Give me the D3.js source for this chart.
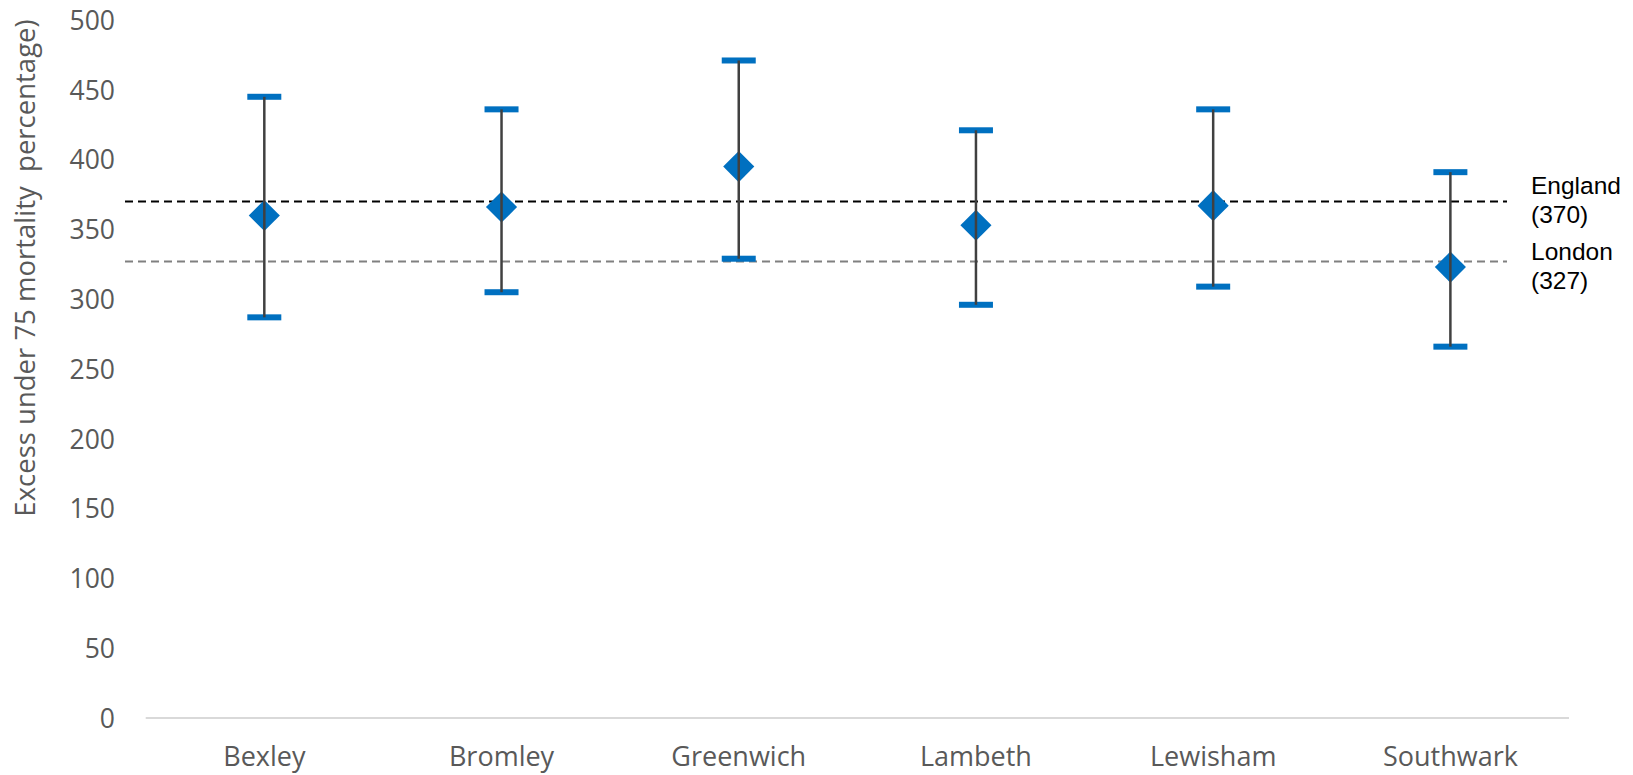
<!DOCTYPE html>
<html>
<head>
<meta charset="utf-8">
<script src="https://cdn.jsdelivr.net/npm/d3@7"></script>
<style>
  html, body { margin: 0; padding: 0; background: #ffffff; }
  svg { display: block; }
</style>
</head>
<body>
<svg id="chart" width="1633" height="775"></svg>
<script>
// Boroughs and their excess under-75 mortality estimates with confidence limits
const boroughs = ["Bexley", "Bromley", "Greenwich", "Lambeth", "Lewisham", "Southwark"];
const values   = [360, 366, 395, 353, 367, 323];
const lower    = [287, 305, 329, 296, 309, 266];
const upper    = [445, 436, 471, 421, 436, 391];

// Reference benchmarks
const benchmarkNames  = ["England", "London"];
const benchmarkValues = [370, 327];

const yTicks = [0, 50, 100, 150, 200, 250, 300, 350, 400, 450, 500];

const svg = d3.select("#chart");

const x = d3.scaleBand().domain(boroughs).range([145.7, 1569]).padding(0);
const y = d3.scaleLinear().domain([0, 500]).range([718, 20]);

const data = boroughs.map((b, i) => ({ name: b, value: values[i], lo: lower[i], hi: upper[i] }));
const cx = d => x(d.name) + x.bandwidth() / 2;

// Baseline
svg.append("line")
  .attr("x1", x.range()[0]).attr("x2", x.range()[1])
  .attr("y1", y(0)).attr("y2", y(0))
  .attr("stroke", "#d9d9d9").attr("stroke-width", 2);

// Y axis (labels only)
const yAxis = d3.axisLeft(y).tickValues(yTicks).tickSize(0).tickPadding(0);
const gy = svg.append("g").attr("transform", "translate(115,0)").call(yAxis);
gy.select(".domain").remove();
gy.selectAll("text")
  .attr("font-family", "'Open Sans', sans-serif")
  .attr("font-size", 26.5)
  .attr("fill", "#595959")
  .attr("dy", "0.35em");

// X axis (category labels)
const xAxis = d3.axisBottom(x).tickSize(0).tickPadding(0);
const gx = svg.append("g").attr("transform", "translate(0,747)").call(xAxis);
gx.select(".domain").remove();
gx.selectAll("text")
  .attr("font-family", "'Open Sans', sans-serif")
  .attr("font-size", 27)
  .attr("fill", "#595959")
  .attr("dy", "0.71em");

// Y axis title
svg.append("text")
  .attr("transform", `translate(28,268) rotate(-90)`)
  .attr("text-anchor", "middle")
  .attr("dominant-baseline", "middle")
  .attr("font-family", "'Open Sans', sans-serif")
  .attr("font-size", 27.5)
  .attr("fill", "#595959")
  .style("white-space", "pre")
  .text("Excess under 75 mortality  percentage)");

// Benchmark dashed lines
const benchmarkStyle = {
  England: { color: "#000000", labelShift: -7 },
  London:  { color: "#808080", labelShift: -1.5 }
};
benchmarkValues.forEach((v, i) => {
  svg.append("line")
    .attr("x1", 125).attr("x2", 1507)
    .attr("y1", y(v)).attr("y2", y(v))
    .attr("stroke", benchmarkStyle[benchmarkNames[i]].color)
    .attr("stroke-width", 2)
    .attr("stroke-dasharray", "8,5");
});

// Benchmark labels
benchmarkNames.forEach((n, i) => {
  const t = svg.append("text")
    .attr("x", 1531)
    .attr("y", y(benchmarkValues[i]) + benchmarkStyle[n].labelShift)
    .attr("font-family", "'Liberation Sans', Arial, sans-serif")
    .attr("font-size", 24.5)
    .attr("fill", "#000000");
  t.append("tspan").attr("x", 1531).text(n);
  t.append("tspan").attr("x", 1531).attr("dy", 28.5).text(`(${benchmarkValues[i]})`);
});

const marks = svg.append("g");

// Caps
marks.selectAll(".cap-hi").data(data).join("rect")
  .attr("x", d => cx(d) - 17).attr("y", d => y(d.hi) - 3)
  .attr("width", 34).attr("height", 6)
  .attr("fill", "#0070c0");
marks.selectAll(".cap-lo").data(data).join("rect")
  .attr("x", d => cx(d) - 17).attr("y", d => y(d.lo) - 3)
  .attr("width", 34).attr("height", 6)
  .attr("fill", "#0070c0");

// Diamonds
const diamond = d3.symbol().type(d3.symbolSquare).size(22 * 22);
marks.selectAll(".pt").data(data).join("path")
  .attr("d", diamond)
  .attr("transform", d => `translate(${cx(d)},${y(d.value)}) rotate(45)`)
  .attr("fill", "#0070c0");

// Whiskers
marks.selectAll(".whisker").data(data).join("line")
  .attr("x1", cx).attr("x2", cx)
  .attr("y1", d => y(d.hi)).attr("y2", d => y(d.lo))
  .attr("stroke", "#404040").attr("stroke-width", 2.5);
</script>
</body>
</html>
